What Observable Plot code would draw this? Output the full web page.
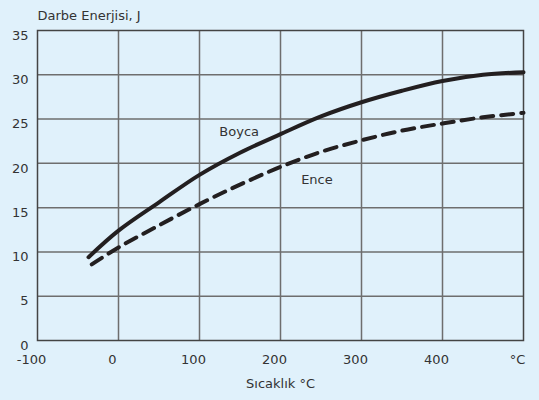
<!DOCTYPE html>
<html><head><meta charset="utf-8">
<script src="https://cdn.jsdelivr.net/npm/d3@7"></script>
<script src="https://cdn.jsdelivr.net/npm/@observablehq/plot@0.6"></script>
<style>
html,body{margin:0;padding:0;background:#e0f1fb;}
svg, svg text{font-family:"DejaVu Sans", Verdana, sans-serif !important;}
</style>
</head><body>
<div id="chart"></div>
<script>
const boycaT = [-37, 0, 50, 100, 150, 200, 250, 300, 350, 400, 450, 500];
const boyca  = [9.4, 12.4, 15.6, 18.7, 21.2, 23.3, 25.3, 26.9, 28.2, 29.3, 30.0, 30.3];
const enceT  = [-33, 0, 50, 100, 150, 200, 250, 300, 350, 400, 450, 500];
const ence   = [8.6, 10.5, 13.0, 15.4, 17.6, 19.6, 21.3, 22.6, 23.7, 24.5, 25.2, 25.7];
const xTicks = [-100, 0, 100, 200, 300, 400, 500];
const xTickLabels = ["-100", "0", "100", "200", "300", "400", "°C"];
const yTicks = [0, 5, 10, 15, 20, 25, 30, 35];
const seriesLabels = [{name: "Boyca", t: 149, v: 23.6}, {name: "Ence", t: 245, v: 18.1}];
const yTitle = "Darbe Enerjisi, J";
const xTitle = "Sıcaklık °C";

const dB = boycaT.map((t, i) => ({t, v: boyca[i]}));
const dE = enceT.map((t, i) => ({t, v: ence[i]}));
const FS = 13;
const FF = "DejaVu Sans";

const chart = Plot.plot({
  width: 539, height: 400,
  marginLeft: 37, marginRight: 16, marginTop: 30, marginBottom: 60,
  style: {background: "#e0f1fb", fontFamily: FF, fontSize: "13px", color: "#333"},
  x: {domain: [-100, 500]},
  y: {domain: [0, 35]},
  marks: [
    Plot.ruleX(xTicks.slice(1, -1), {stroke: "#6e6e6e", strokeWidth: 1.5, strokeOpacity: 1}),
    Plot.ruleY(yTicks.slice(1, -1), {stroke: "#6e6e6e", strokeWidth: 1.5, strokeOpacity: 1}),
    Plot.frame({stroke: "#444", strokeWidth: 1.5}),
    Plot.axisX({ticks: xTicks, tickSize: 0, tickPadding: 14, dx: -6, fontSize: FS, fontFamily: FF, tickFormat: (d) => xTickLabels[xTicks.indexOf(d)], label: null, fill: "#333"}),
    Plot.axisY({ticks: yTicks, tickSize: 0, tickPadding: 9, dy: 5, fontSize: FS, fontFamily: FF, label: null, fill: "#333"}),
    Plot.line(dE, {x: "t", y: "v", curve: "catmull-rom", stroke: "#231f20", strokeWidth: 4, strokeDasharray: "12,8"}),
    Plot.line(dB, {x: "t", y: "v", curve: "catmull-rom", stroke: "#231f20", strokeWidth: 4}),
    Plot.text(seriesLabels, {x: "t", y: "v", text: "name", fill: "#333", fontSize: FS, fontFamily: FF}),
    Plot.text([yTitle], {frameAnchor: "top-left", text: d => d, textAnchor: "start", dy: -20, fill: "#333", fontSize: FS, fontFamily: FF}),
    Plot.text([xTitle], {frameAnchor: "bottom", text: d => d, dy: 47, fill: "#333", fontSize: FS, fontFamily: FF})
  ]
});
document.getElementById("chart").appendChild(chart);
</script>
</body></html>
